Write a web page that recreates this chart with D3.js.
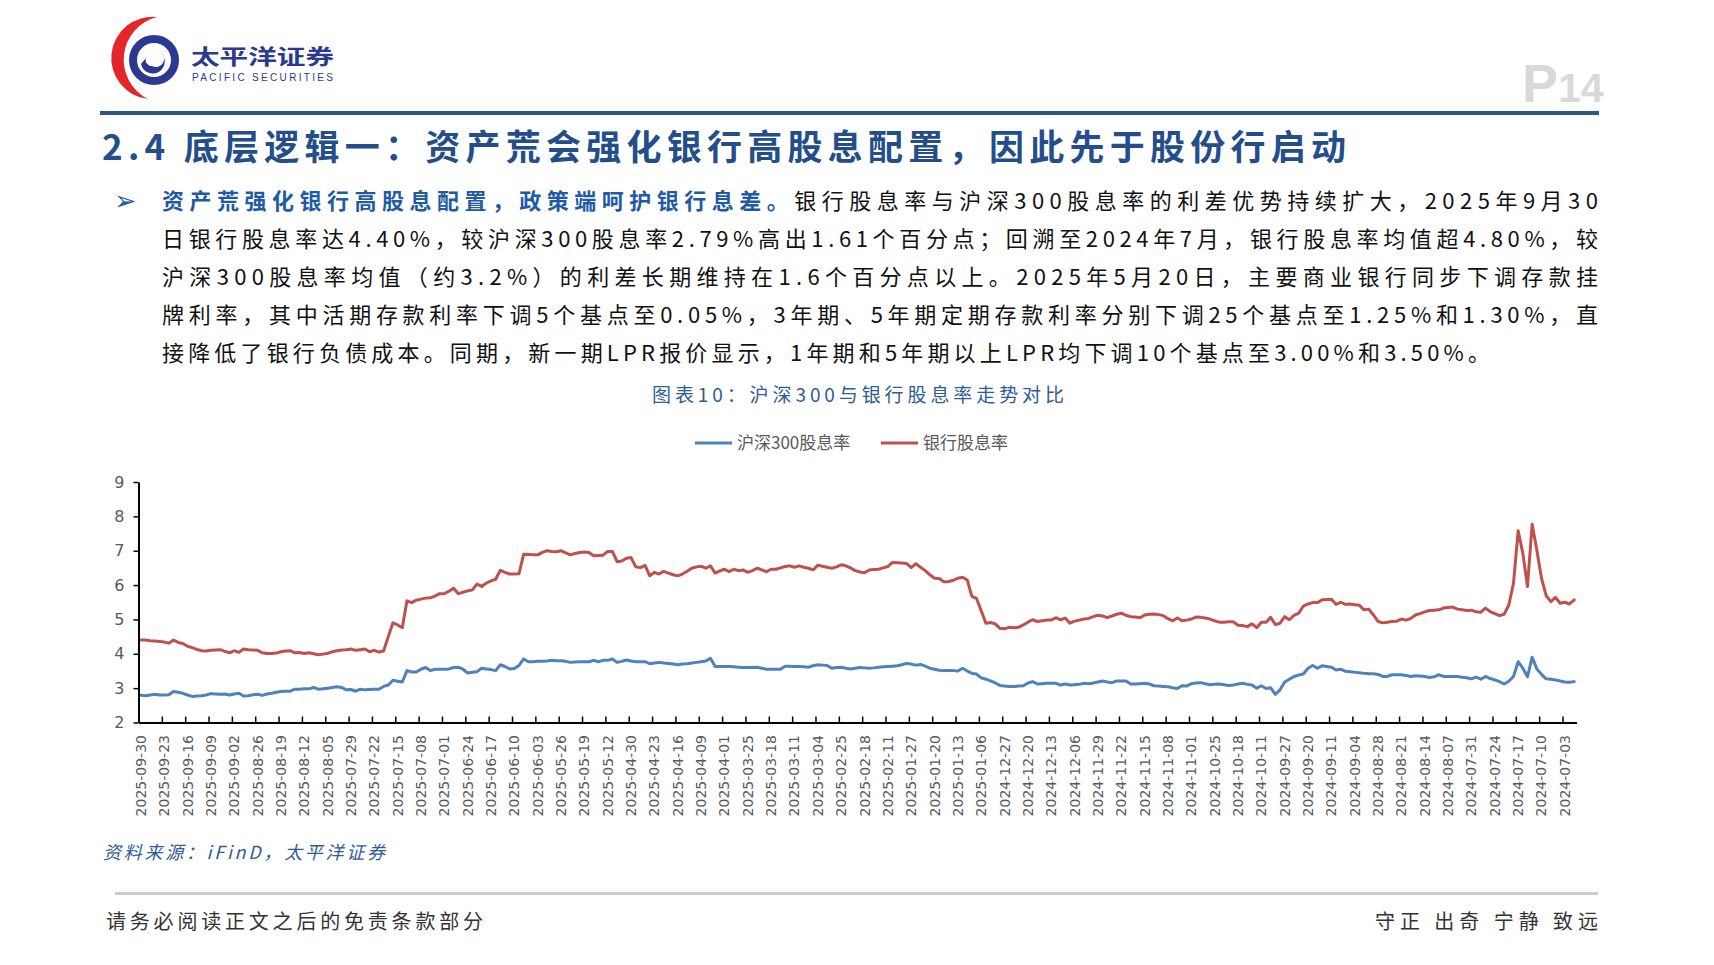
<!DOCTYPE html>
<html><head><meta charset="utf-8">
<script src="https://cdn.jsdelivr.net/npm/d3@7"></script>
<style>html,body{margin:0;padding:0;background:#fff;overflow:hidden}svg{display:block}</style>
</head><body>
<svg id="c" width="1714" height="965"></svg>
<script>
// ---------------- data ----------------
const seriesNames = ["沪深300股息率", "银行股息率"];
const yTicks = [2, 3, 4, 5, 6, 7, 8, 9];
// one label every 5 trading days, starting at the first category
const tickLabels = [
"2025-09-30","2025-09-23","2025-09-16","2025-09-09","2025-09-02","2025-08-26","2025-08-19","2025-08-12","2025-08-05","2025-07-29",
"2025-07-22","2025-07-15","2025-07-08","2025-07-01","2025-06-24","2025-06-17","2025-06-10","2025-06-03","2025-05-26","2025-05-19",
"2025-05-12","2025-04-30","2025-04-23","2025-04-16","2025-04-09","2025-04-01","2025-03-25","2025-03-18","2025-03-11","2025-03-04",
"2025-02-25","2025-02-18","2025-02-11","2025-01-27","2025-01-20","2025-01-13","2025-01-06","2024-12-27","2024-12-20","2024-12-13",
"2024-12-06","2024-11-29","2024-11-22","2024-11-15","2024-11-08","2024-11-01","2024-10-25","2024-10-18","2024-10-11","2024-09-27",
"2024-09-20","2024-09-11","2024-09-04","2024-08-28","2024-08-21","2024-08-14","2024-08-07","2024-07-31","2024-07-24","2024-07-17",
"2024-07-10","2024-07-03"];
const labelEvery = 5;
// 沪深300股息率 (%), daily, newest first
const hs300Yield = [
2.79,2.78,2.80,2.82,2.80,2.80,2.81,2.90,2.88,2.85,
2.80,2.76,2.77,2.78,2.80,2.84,2.83,2.82,2.83,2.80,
2.83,2.85,2.77,2.78,2.81,2.82,2.79,2.83,2.85,2.88,
2.90,2.91,2.91,2.97,2.97,2.98,2.98,3.02,2.97,2.98,
3.00,3.02,3.04,3.02,2.95,2.96,2.91,2.97,2.95,2.96,
2.97,2.97,3.05,3.09,3.23,3.20,3.18,3.51,3.47,3.47,
3.55,3.60,3.51,3.55,3.55,3.55,3.56,3.60,3.61,3.55,
3.44,3.46,3.48,3.58,3.56,3.54,3.51,3.68,3.63,3.56,
3.57,3.66,3.85,3.77,3.77,3.78,3.78,3.79,3.81,3.80,
3.80,3.78,3.75,3.76,3.77,3.77,3.77,3.81,3.77,3.81,
3.81,3.85,3.75,3.78,3.82,3.79,3.77,3.77,3.77,3.71,
3.73,3.75,3.73,3.72,3.70,3.68,3.70,3.71,3.73,3.75,
3.77,3.79,3.87,3.63,3.63,3.63,3.63,3.62,3.61,3.60,
3.60,3.60,3.61,3.58,3.55,3.55,3.55,3.55,3.64,3.64,
3.63,3.63,3.62,3.61,3.65,3.68,3.67,3.66,3.58,3.60,
3.61,3.58,3.56,3.58,3.60,3.59,3.58,3.59,3.61,3.62,
3.63,3.64,3.65,3.68,3.72,3.70,3.67,3.69,3.64,3.58,
3.55,3.52,3.51,3.51,3.51,3.50,3.58,3.50,3.43,3.41,
3.30,3.26,3.21,3.15,3.08,3.06,3.05,3.05,3.06,3.07,
3.15,3.19,3.12,3.13,3.14,3.14,3.14,3.09,3.12,3.09,
3.10,3.11,3.14,3.13,3.15,3.18,3.21,3.18,3.16,3.21,
3.21,3.21,3.12,3.12,3.13,3.14,3.12,3.07,3.06,3.05,
3.04,3.01,2.99,3.07,3.06,3.13,3.15,3.16,3.13,3.10,
3.11,3.12,3.10,3.08,3.09,3.12,3.14,3.11,3.09,3.00,
3.07,2.99,3.01,2.82,2.95,3.18,3.26,3.34,3.38,3.41,
3.58,3.66,3.58,3.65,3.63,3.61,3.53,3.55,3.49,3.48,
3.46,3.45,3.43,3.42,3.42,3.40,3.34,3.34,3.39,3.39,
3.39,3.37,3.34,3.36,3.35,3.34,3.31,3.33,3.39,3.34,
3.34,3.34,3.34,3.32,3.30,3.27,3.32,3.26,3.34,3.28,
3.24,3.19,3.12,3.20,3.34,3.77,3.58,3.33,3.90,3.56,
3.40,3.27,3.26,3.24,3.21,3.18,3.17,3.19];
// 银行股息率 (%), daily, newest first
const bankYield = [
4.40,4.40,4.38,4.37,4.36,4.34,4.31,4.40,4.33,4.30,
4.22,4.18,4.13,4.09,4.08,4.10,4.11,4.12,4.07,4.03,
4.09,4.04,4.14,4.12,4.11,4.10,4.03,4.01,4.01,4.02,
4.06,4.08,4.09,4.03,4.04,4.01,4.03,4.00,3.97,3.99,
4.01,4.06,4.09,4.11,4.12,4.14,4.10,4.12,4.14,4.06,
4.10,4.05,4.08,4.50,4.90,4.84,4.76,5.54,5.49,5.56,
5.59,5.62,5.63,5.68,5.75,5.75,5.82,5.91,5.75,5.79,
5.83,5.86,6.03,5.96,6.06,6.12,6.17,6.43,6.37,6.32,
6.32,6.33,6.90,6.89,6.88,6.88,6.95,7.00,6.98,6.97,
7.00,6.94,6.88,6.92,6.95,6.96,6.95,6.85,6.86,6.87,
6.98,6.98,6.68,6.70,6.78,6.80,6.53,6.51,6.57,6.27,
6.37,6.32,6.40,6.35,6.30,6.27,6.32,6.40,6.49,6.53,
6.55,6.49,6.56,6.35,6.41,6.46,6.39,6.46,6.42,6.44,
6.37,6.42,6.49,6.44,6.39,6.46,6.46,6.50,6.54,6.56,
6.52,6.56,6.52,6.49,6.44,6.58,6.55,6.52,6.49,6.53,
6.59,6.56,6.50,6.42,6.38,6.36,6.44,6.45,6.46,6.50,
6.54,6.66,6.65,6.64,6.63,6.51,6.62,6.52,6.42,6.30,
6.20,6.19,6.10,6.10,6.14,6.20,6.23,6.15,5.67,5.61,
5.25,4.89,4.91,4.87,4.74,4.73,4.77,4.76,4.77,4.84,
4.92,4.99,4.94,4.96,4.98,4.98,5.05,4.99,5.04,4.89,
4.95,4.98,5.01,5.03,5.08,5.12,5.10,5.05,5.10,5.15,
5.18,5.12,5.08,5.07,5.05,5.13,5.15,5.16,5.14,5.11,
5.02,4.96,5.04,4.96,4.98,5.01,5.07,5.06,5.04,5.01,
4.96,4.92,4.92,4.93,4.93,4.83,4.82,4.79,4.87,4.76,
4.92,4.92,5.06,4.85,4.89,5.08,4.99,5.12,5.18,5.39,
5.45,5.49,5.49,5.57,5.58,5.59,5.44,5.50,5.44,5.45,
5.43,5.41,5.28,5.30,5.13,4.94,4.90,4.92,4.94,4.95,
5.01,4.98,5.03,5.13,5.17,5.22,5.26,5.27,5.28,5.33,
5.35,5.36,5.30,5.28,5.26,5.27,5.22,5.21,5.33,5.23,
5.17,5.11,5.15,5.42,6.05,7.58,6.93,5.96,7.77,7.02,
6.20,5.69,5.52,5.64,5.47,5.50,5.45,5.57];

const bodyLines = [
  ["资产荒强化银行高股息配置，政策端呵护银行息差。", "银行股息率与沪深300股息率的利差优势持续扩大，2025年9月30"],
  ["", "日银行股息率达4.40%，较沪深300股息率2.79%高出1.61个百分点；回溯至2024年7月，银行股息率均值超4.80%，较"],
  ["", "沪深300股息率均值（约3.2%）的利差长期维持在1.6个百分点以上。2025年5月20日，主要商业银行同步下调存款挂"],
  ["", "牌利率，其中活期存款利率下调5个基点至0.05%，3年期、5年期定期存款利率分别下调25个基点至1.25%和1.30%，直"],
  ["", "接降低了银行负债成本。同期，新一期LPR报价显示，1年期和5年期以上LPR均下调10个基点至3.00%和3.50%。"]
];

// ---------------- drawing ----------------
const svg = d3.select("#c");
const CJK = "'Noto Sans CJK SC','Noto Sans',sans-serif";
const colors = ["#4F81BD", "#C0504D"];

// logo
const logo = svg.append("g");
logo.append("path").attr("d", "M157,17 A41,41 0 0,0 148,99 A44,44 0 0,1 157,17 Z").attr("fill", "#E4262B");
logo.append("circle").attr("cx", 154).attr("cy", 60).attr("r", 21).attr("fill", "none").attr("stroke", "#2B3990").attr("stroke-width", 8);
logo.append("path").attr("d", "M141,64 A12,12 0 1,0 160,52 A8,8 0 0,1 152,66 A6,6 0 0,1 146,58 Z").attr("fill", "#2B3990");
logo.append("text").attr("x", 191).attr("y", 64).attr("font-family", CJK).attr("font-weight", 700)
  .attr("font-size", 21).attr("fill", "#2B3990").attr("textLength", 143).attr("lengthAdjust", "spacingAndGlyphs").text("太平洋证券");
logo.append("text").attr("x", 192).attr("y", 81).attr("font-family", "'Liberation Sans',Arial,sans-serif")
  .attr("font-size", 10).attr("fill", "#2B3990").attr("textLength", 141).attr("lengthAdjust", "spacing").text("PACIFIC SECURITIES");

// page number
const pg = svg.append("text").attr("y", 102).attr("fill", "#D9D9D9").attr("font-weight", 700)
  .attr("font-family", "'Liberation Sans Narrow','Liberation Sans',sans-serif");
pg.append("tspan").attr("x", 1522).attr("font-size", 54).text("P");
pg.append("tspan").attr("font-size", 41).text("14");

// header rule
svg.append("rect").attr("x", 100).attr("y", 111).attr("width", 1499).attr("height", 4).attr("fill", "#2C5590");

// title
svg.append("text").attr("x", 102).attr("y", 160).attr("font-family", CJK).attr("font-weight", 700)
  .attr("font-size", 35).attr("fill", "#234E8A").attr("textLength", 1244).attr("lengthAdjust", "spacing")
  .text("2.4 底层逻辑一：资产荒会强化银行高股息配置，因此先于股份行启动");

// bullet
svg.append("text").attr("x", 114).attr("y", 210).attr("font-family", "'DejaVu Sans',sans-serif")
  .attr("font-size", 27).attr("fill", "#1F5AA6").text("➢");

// body text
const baseY = [209, 247, 285, 323, 361];
bodyLines.forEach((ln, i) => {
  const t = svg.append("text").attr("x", 162).attr("y", baseY[i]).attr("font-family", CJK)
    .attr("font-size", 22).attr("fill", "#111")
    .attr("textLength", i < 4 ? 1436 : 1328).attr("lengthAdjust", "spacing");
  if (ln[0]) t.append("tspan").attr("fill", "#1F5AA6").attr("font-weight", 700).text(ln[0]);
  t.append("tspan").text(ln[1]);
});

// chart title
svg.append("text").attr("x", 652).attr("y", 402).attr("font-family", CJK).attr("font-size", 19)
  .attr("fill", "#2E5C99").attr("textLength", 412).attr("lengthAdjust", "spacing")
  .text("图表10：沪深300与银行股息率走势对比");

// legend
const legX = [695, 881];
seriesNames.forEach((n, i) => {
  svg.append("line").attr("x1", legX[i]).attr("x2", legX[i] + 37).attr("y1", 443).attr("y2", 443)
    .attr("stroke", colors[i]).attr("stroke-width", 3);
  svg.append("text").attr("x", legX[i] + 42).attr("y", 449).attr("font-family", CJK).attr("font-size", 17)
    .attr("fill", "#595959").text(n);
});

// chart
const N = bankYield.length;
const x0 = 138.5, x1 = 1576.5, yTop = 482, yBot = 722.5;
const xb = d3.scaleBand().domain(d3.range(N)).range([x0, x1]).padding(0);
const xl = d3.scaleLinear().domain([0, N]).range([x0, x1]);
const y = d3.scaleLinear().domain([2, 9]).range([yBot, yTop]);
const cx = i => xb(i) + xb.bandwidth() / 2;

const line = d3.line().x((d, i) => cx(i)).y(d => y(d)).curve(d3.curveLinear);
[hs300Yield, bankYield].forEach((s, k) => {
  svg.append("path").datum(s).attr("d", line).attr("fill", "none").attr("stroke", colors[k])
    .attr("stroke-width", 3).attr("stroke-linejoin", "round").attr("stroke-linecap", "round");
});

// y axis
const ya = svg.append("g").attr("transform", `translate(${x0},0)`)
  .call(d3.axisLeft(y).tickValues(yTicks).tickSize(5).tickSizeOuter(0).tickPadding(9).tickFormat(d3.format("d")));
ya.select(".domain").attr("stroke", "#000").attr("stroke-width", 2);
ya.selectAll(".tick line").attr("stroke", "#000").attr("stroke-width", 1.5);
ya.selectAll(".tick text").attr("font-family", "'DejaVu Sans',sans-serif").attr("font-size", 16).attr("fill", "#595959");

// x axis (tick marks between every 5 categories, inward)
const xa = svg.append("g").attr("transform", `translate(0,${yBot})`)
  .call(d3.axisBottom(xl).tickValues(d3.range(labelEvery, N, labelEvery)).tickSize(-6).tickSizeOuter(0).tickFormat(""));
xa.select(".domain").attr("stroke", "#000").attr("stroke-width", 2);
xa.selectAll(".tick line").attr("stroke", "#000").attr("stroke-width", 1.5);

// x labels
svg.append("g").selectAll("text").data(tickLabels).join("text")
  .attr("transform", (d, k) => `translate(${cx(k * labelEvery) + 5},735) rotate(-90)`)
  .attr("text-anchor", "end").attr("font-family", "'DejaVu Sans',sans-serif").attr("font-size", 14)
  .attr("fill", "#595959").text(d => d);

// source
svg.append("text").attr("x", 103).attr("y", 859).attr("font-family", CJK).attr("font-size", 18)
  .attr("font-style", "italic").attr("fill", "#2E5C99").attr("textLength", 282).attr("lengthAdjust", "spacing")
  .text("资料来源：iFinD，太平洋证券");

// footer
svg.append("rect").attr("x", 115).attr("y", 892).attr("width", 1483).attr("height", 3).attr("fill", "#CDCDCD");
svg.append("text").attr("x", 106).attr("y", 929).attr("font-family", CJK).attr("font-size", 20)
  .attr("fill", "#333").attr("textLength", 377).attr("lengthAdjust", "spacing").text("请务必阅读正文之后的免责条款部分");
svg.append("text").attr("x", 1375).attr("y", 929).attr("font-family", CJK).attr("font-size", 20)
  .attr("fill", "#333").attr("textLength", 223).attr("lengthAdjust", "spacing").text("守正 出奇 宁静 致远");
</script>
</body></html>
